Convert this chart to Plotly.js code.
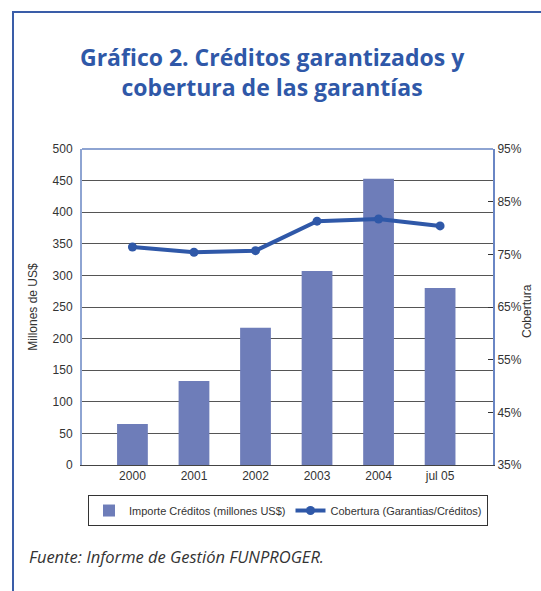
<!DOCTYPE html>
<html>
<head>
<meta charset="utf-8">
<script src="https://cdn.plot.ly/plotly-3.0.1.min.js"></script>
<style>
  body { margin: 0; background: #fff; }
  #chart { width: 541px; height: 591px; }
</style>
</head>
<body>
<div id="chart"></div>
<script>
// Créditos garantizados (millones US$) y cobertura (%)
var periodos = ['2000', '2001', '2002', '2003', '2004', 'jul 05'];
var importe = [65, 133, 217, 307, 453, 280];
var cobertura = [76.4, 75.4, 75.7, 81.3, 81.7, 80.4];

var narrow = 'Liberation Sans Narrow, Arial Narrow, Liberation Sans, sans-serif';

var trace1 = {
  x: periodos,
  y: importe,
  type: 'bar',
  name: 'Importe Créditos (millones US$)',
  width: 0.5,
  marker: { color: '#6e7db9' }
};

var trace2 = {
  x: periodos,
  y: cobertura,
  yaxis: 'y2',
  type: 'scatter',
  mode: 'lines+markers',
  name: 'Cobertura (Garantias/Créditos)',
  line: { color: '#2f58a8', width: 4 },
  marker: { color: '#2f58a8', size: 9 }
};

var layout = {
  width: 541,
  height: 591,
  margin: { l: 82, r: 48, t: 149, b: 126, autoexpand: false },
  paper_bgcolor: '#fff',
  plot_bgcolor: '#fff',
  showlegend: true,
  font: { family: narrow, size: 12, color: '#333' },
  title: {
    text: 'Gráfico 2. Créditos garantizados y<br>cobertura de las garantías',
    font: { family: 'Open Sans', size: 23, color: '#2f58a8', weight: 'bold' },
    x: 0.503, xanchor: 'center',
    yref: 'container', y: 1 - 66 / 591, yanchor: 'top'
  },
  xaxis: {
    type: 'category',
    range: [-0.82, 5.86],
    showline: true, linecolor: '#444', linewidth: 1,
    ticks: '', showgrid: false, tickangle: 0,
    tickfont: { family: narrow, size: 12, color: '#333' }
  },
  yaxis: {
    range: [0, 500], dtick: 50,
    showline: true, linecolor: '#8ea4d2', linewidth: 2,
    showgrid: true, gridcolor: '#555', gridwidth: 1,
    zeroline: false, ticks: '',
    ticklabelstandoff: 5,
    tickfont: { family: narrow, size: 12, color: '#333' },
    title: { text: 'Millones de US$', font: { family: narrow, size: 12, color: '#333' }, standoff: 12 }
  },
  yaxis2: {
    overlaying: 'y', side: 'right',
    range: [35, 95], tick0: 35, dtick: 10, ticksuffix: '%',
    showline: true, linecolor: '#6a86c4', linewidth: 2,
    showgrid: false, zeroline: false,
    ticks: 'inside', ticklen: 5, tickcolor: '#333',
    tickfont: { family: narrow, size: 12, color: '#333' }
  },
  legend: {
    orientation: 'h',
    xref: 'container', x: 288 / 541, xanchor: 'center',
    y: -0.095, yanchor: 'top',
    bordercolor: '#333', borderwidth: 1, bgcolor: '#fff',
    itemwidth: 30,
    font: { family: narrow, size: 11, color: '#333' }
  },
  shapes: [
    { type: 'line', xref: 'paper', yref: 'paper', x0: 0, x1: 1, y0: 1, y1: 1,
      line: { color: '#8ea4d2', width: 2 } },
    { type: 'rect', xref: 'paper', yref: 'paper',
      x0: (13 - 82) / 411, x1: 2, y0: -3, y1: (465 - 12) / 316,
      line: { color: '#3a5da8', width: 2 } }
  ],
  annotations: [
    { text: 'Cobertura', showarrow: false, textangle: -90,
      xref: 'paper', yref: 'paper',
      x: (527 - 82) / 411, xanchor: 'center',
      y: (465 - 311) / 316, yanchor: 'middle',
      font: { family: narrow, size: 12, color: '#333' } },
    { text: 'Fuente: Informe de Gestión FUNPROGER.', showarrow: false,
      xref: 'paper', yref: 'paper',
      x: (27 - 82) / 411, xanchor: 'left',
      y: (465 - 556) / 316, yanchor: 'middle',
      font: { family: 'Open Sans', size: 16.5, color: '#333', style: 'italic' } }
  ]
};

Plotly.newPlot('chart', [trace1, trace2], layout, { displayModeBar: false });
</script>
</body>
</html>
